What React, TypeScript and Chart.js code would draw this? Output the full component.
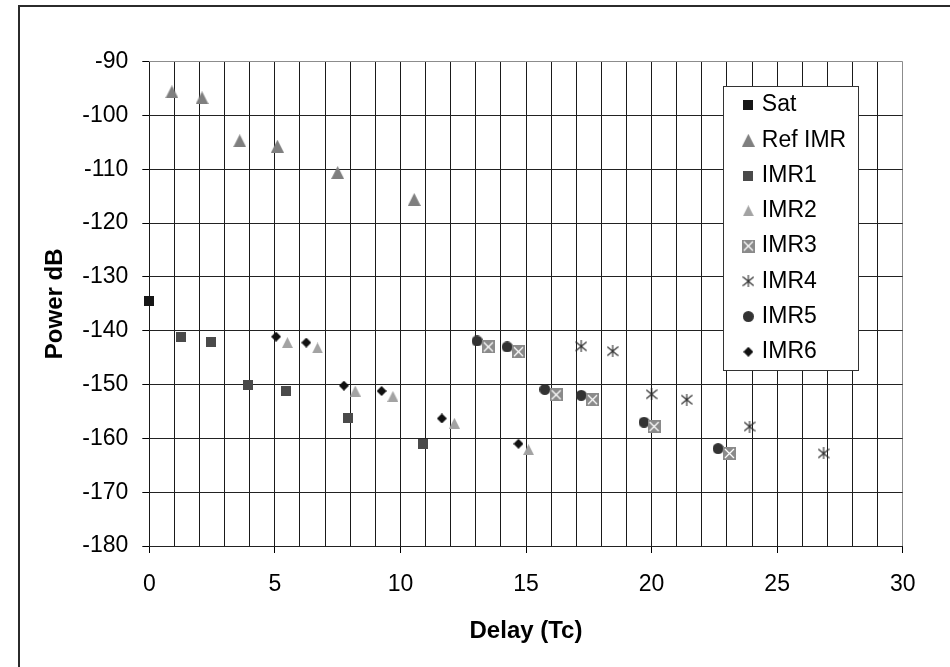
import React, { useEffect, useRef } from 'react';
import { Chart, registerables } from 'chart.js';

Chart.register(...registerables);

// ---------- data ----------
const SERIES_NAMES = ['Sat', 'Ref IMR', 'IMR1', 'IMR2', 'IMR3', 'IMR4', 'IMR5', 'IMR6'];

const SAT_X = [0];
const SAT_Y = [-134.5];

const REF_X = [0.9, 2.1, 3.6, 5.1, 7.5, 10.55];
const REF_Y = [-95.6, -96.7, -104.7, -105.7, -110.6, -115.6];

const IMR1_X = [1.25, 2.45, 3.95, 5.45, 7.9, 10.9];
const IMR1_Y = [-141.1, -142.1, -150.1, -151.2, -156.2, -161.0];

const IMR2_X = [5.5, 6.7, 8.2, 9.7, 12.15, 15.1];
const IMR2_Y = [-142.2, -143.2, -151.2, -152.2, -157.2, -162.1];

const IMR3_X = [13.5, 14.7, 16.2, 17.65, 20.1, 23.1];
const IMR3_Y = [-143.0, -143.9, -151.9, -152.8, -157.8, -162.8];

const IMR4_X = [17.2, 18.45, 20.0, 21.4, 23.9, 26.85];
const IMR4_Y = [-142.9, -143.8, -151.8, -152.8, -157.8, -162.8];

const IMR5_X = [13.05, 14.25, 15.75, 17.2, 19.7, 22.65];
const IMR5_Y = [-141.9, -143.0, -150.9, -152.0, -157.0, -161.9];

const IMR6_X = [5.05, 6.25, 7.75, 9.25, 11.65, 14.7];
const IMR6_Y = [-141.1, -142.2, -150.2, -151.2, -156.3, -161.0];

const X_TICK_LABELS = ['0', '5', '10', '15', '20', '25', '30'];
const Y_TICK_LABELS = ['-90', '-100', '-110', '-120', '-130', '-140', '-150', '-160', '-170', '-180'];

const X_TITLE = 'Delay (Tc)';
const Y_TITLE = 'Power dB';

const FONT = '"Liberation Sans", Arial, Helvetica, sans-serif';

// ---------- marker images ----------
function makeMarker(kind: string, w: number, h: number, color: string): HTMLCanvasElement {
  const c = document.createElement('canvas');
  c.width = w;
  c.height = h;
  const g = c.getContext('2d') as CanvasRenderingContext2D;
  g.fillStyle = color;
  g.strokeStyle = color;
  if (kind === 'square') {
    g.fillRect(0, 0, w, h);
  } else if (kind === 'triangle') {
    g.beginPath();
    g.moveTo(w / 2, 0);
    g.lineTo(w, h);
    g.lineTo(0, h);
    g.closePath();
    g.fill();
  } else if (kind === 'boxx') {
    g.fillRect(0, 0, w, h);
    g.strokeStyle = '#ffffff';
    g.lineWidth = 1.3;
    g.beginPath();
    g.moveTo(2, 2);
    g.lineTo(w - 2, h - 2);
    g.moveTo(w - 2, 2);
    g.lineTo(2, h - 2);
    g.stroke();
  } else if (kind === 'star') {
    g.lineWidth = 1.1;
    g.beginPath();
    g.moveTo(w / 2, 0);
    g.lineTo(w / 2, h);
    g.moveTo(0.5, 1.5);
    g.lineTo(w - 0.5, h - 1.5);
    g.moveTo(w - 0.5, 1.5);
    g.lineTo(0.5, h - 1.5);
    g.stroke();
  } else if (kind === 'circle') {
    g.beginPath();
    g.arc(w / 2, h / 2, w / 2, 0, Math.PI * 2);
    g.fill();
  } else if (kind === 'diamond') {
    g.beginPath();
    g.moveTo(w / 2, 0);
    g.lineTo(w, h / 2);
    g.lineTo(w / 2, h);
    g.lineTo(0, h / 2);
    g.closePath();
    g.fill();
  }
  return c;
}

// legend placement
const LEG_PAD = 12.25;
const LEG_LEFT = 734.1;
const LEG_TOP = 81.3;
const LEG_BOX = { x: 723.5, y: 86.5, w: 135, h: 284 };

const framePlugin: any = {
  id: 'framePlugin',
  beforeDraw(chart: any) {
    const ctx = chart.ctx;
    ctx.save();
    ctx.fillStyle = '#ffffff';
    ctx.fillRect(0, 0, chart.width, chart.height);
    ctx.strokeStyle = '#2b2b2b';
    ctx.lineWidth = 2;
    ctx.beginPath();
    ctx.moveTo(19, chart.height + 2);
    ctx.lineTo(19, 6);
    ctx.lineTo(chart.width + 2, 6);
    ctx.stroke();
    ctx.restore();
  },
  afterUpdate(chart: any) {
    const lg = chart.legend;
    if (!lg) return;
    const dx = LEG_LEFT - lg.left;
    const dy = LEG_TOP - lg.top;
    lg.left += dx;
    lg.top += dy;
    lg.right = lg.left + lg.width;
    lg.bottom = lg.top + lg.height;
    (lg.legendHitBoxes || []).forEach((h: any) => {
      h.left += dx;
      h.top += dy;
    });
  },
  afterDraw(chart: any) {
    const ctx = chart.ctx;
    ctx.save();
    ctx.fillStyle = '#ffffff';
    ctx.fillRect(LEG_BOX.x, LEG_BOX.y, LEG_BOX.w, LEG_BOX.h);
    ctx.strokeStyle = '#333333';
    ctx.lineWidth = 1;
    ctx.strokeRect(LEG_BOX.x, LEG_BOX.y, LEG_BOX.w, LEG_BOX.h);
    ctx.restore();
    if (chart.legend) chart.legend.draw();
  },
};

export default function App() {
  const ref = useRef<HTMLCanvasElement>(null);

  useEffect(() => {
    const canvas = ref.current;
    if (!canvas) return;

    const markers = [
      makeMarker('square', 10, 10, '#161616'),
      makeMarker('triangle', 13, 13, '#7f7f7f'),
      makeMarker('square', 10, 10, '#4a4a4a'),
      makeMarker('triangle', 11, 11, '#a3a3a3'),
      makeMarker('boxx', 13, 13, '#8a8a8a'),
      makeMarker('star', 12, 12, '#2a2a2a'),
      makeMarker('circle', 11, 11, '#333333'),
      makeMarker('diamond', 10, 10, '#111111'),
    ];

    const xs = [SAT_X, REF_X, IMR1_X, IMR2_X, IMR3_X, IMR4_X, IMR5_X, IMR6_X];
    const ys = [SAT_Y, REF_Y, IMR1_Y, IMR2_Y, IMR3_Y, IMR4_Y, IMR5_Y, IMR6_Y];

    const datasets = SERIES_NAMES.map((name, i) => ({
      label: name,
      data: xs[i].map((x, j) => ({ x, y: ys[i][j] })),
      pointStyle: markers[i],
      pointRadius: 6,
      showLine: false,
      clip: false,
      backgroundColor: '#000',
      borderColor: '#000',
    }));

    const chart = new Chart(canvas, {
      type: 'scatter',
      data: { datasets },
      plugins: [framePlugin],
      options: {
        animation: false,
        responsive: false,
        maintainAspectRatio: false,
        events: [],
        layout: { padding: { left: 0, top: 61.7, right: 47.3, bottom: 21.6 } },
        plugins: {
          tooltip: { enabled: false },
          legend: {
            display: true,
            position: 'chartArea',
            align: 'start',
            labels: {
              usePointStyle: true,
              boxWidth: 4,
              padding: LEG_PAD,
              color: '#000',
              font: { family: FONT, size: 23 },
              generateLabels: () =>
                SERIES_NAMES.map((name, i) => ({
                  text: name,
                  pointStyle: markers[i],
                  fillStyle: '#000',
                  strokeStyle: '#000',
                  lineWidth: 0,
                  hidden: false,
                  datasetIndex: i,
                })),
            },
          },
        },
        scales: {
          x: {
            type: 'linear',
            min: 0,
            max: 30,
            afterFit: (s: any) => {
              s.height = 99.4;
            },
            border: { display: false },
            grid: {
              lineWidth: 1,
              tickLength: 7,
              color: (c: any) => (c.tick && c.tick.value === 30 ? '#8c8c8c' : '#1a1a1a'),
              tickColor: (c: any) => (c.tick && X_TICK_LABELS.includes(String(c.tick.value)) ? '#000' : 'rgba(0,0,0,0)'),
            },
            ticks: {
              stepSize: 1,
              autoSkip: false,
              maxRotation: 0,
              padding: 18,
              color: '#000',
              font: { family: FONT, size: 23 },
              callback: (v: any) => (X_TICK_LABELS.includes(String(v)) ? String(v) : ''),
            },
            title: {
              display: true,
              text: X_TITLE,
              color: '#000',
              font: { family: FONT, size: 24, weight: 'bold' },
              padding: { top: 0, bottom: 0 },
            },
          },
          y: {
            type: 'linear',
            min: -180,
            max: -90,
            afterFit: (s: any) => {
              s.width = 149.3;
            },
            border: { display: false },
            grid: {
              lineWidth: 1,
              tickLength: 7,
              color: (c: any) => (c.tick && c.tick.value === -90 ? '#8c8c8c' : '#222222'),
              tickColor: '#000',
            },
            ticks: {
              stepSize: 10,
              padding: 14,
              color: '#000',
              font: { family: FONT, size: 23 },
              callback: (v: any) => (Y_TICK_LABELS.includes(String(v)) ? String(v) : ''),
            },
            title: {
              display: true,
              text: Y_TITLE,
              color: '#000',
              font: { family: FONT, size: 24, weight: 'bold' },
              padding: { top: 40.6, bottom: 0 },
            },
          },
        },
      } as any,
    });

    return () => chart.destroy();
  }, []);

  return (
    <div style={{ position: 'absolute', left: 0, top: 0, width: 950, height: 667, background: '#fff' }}>
      <canvas ref={ref} width={950} height={667} style={{ display: 'block', width: 950, height: 667 }} />
    </div>
  );
}
